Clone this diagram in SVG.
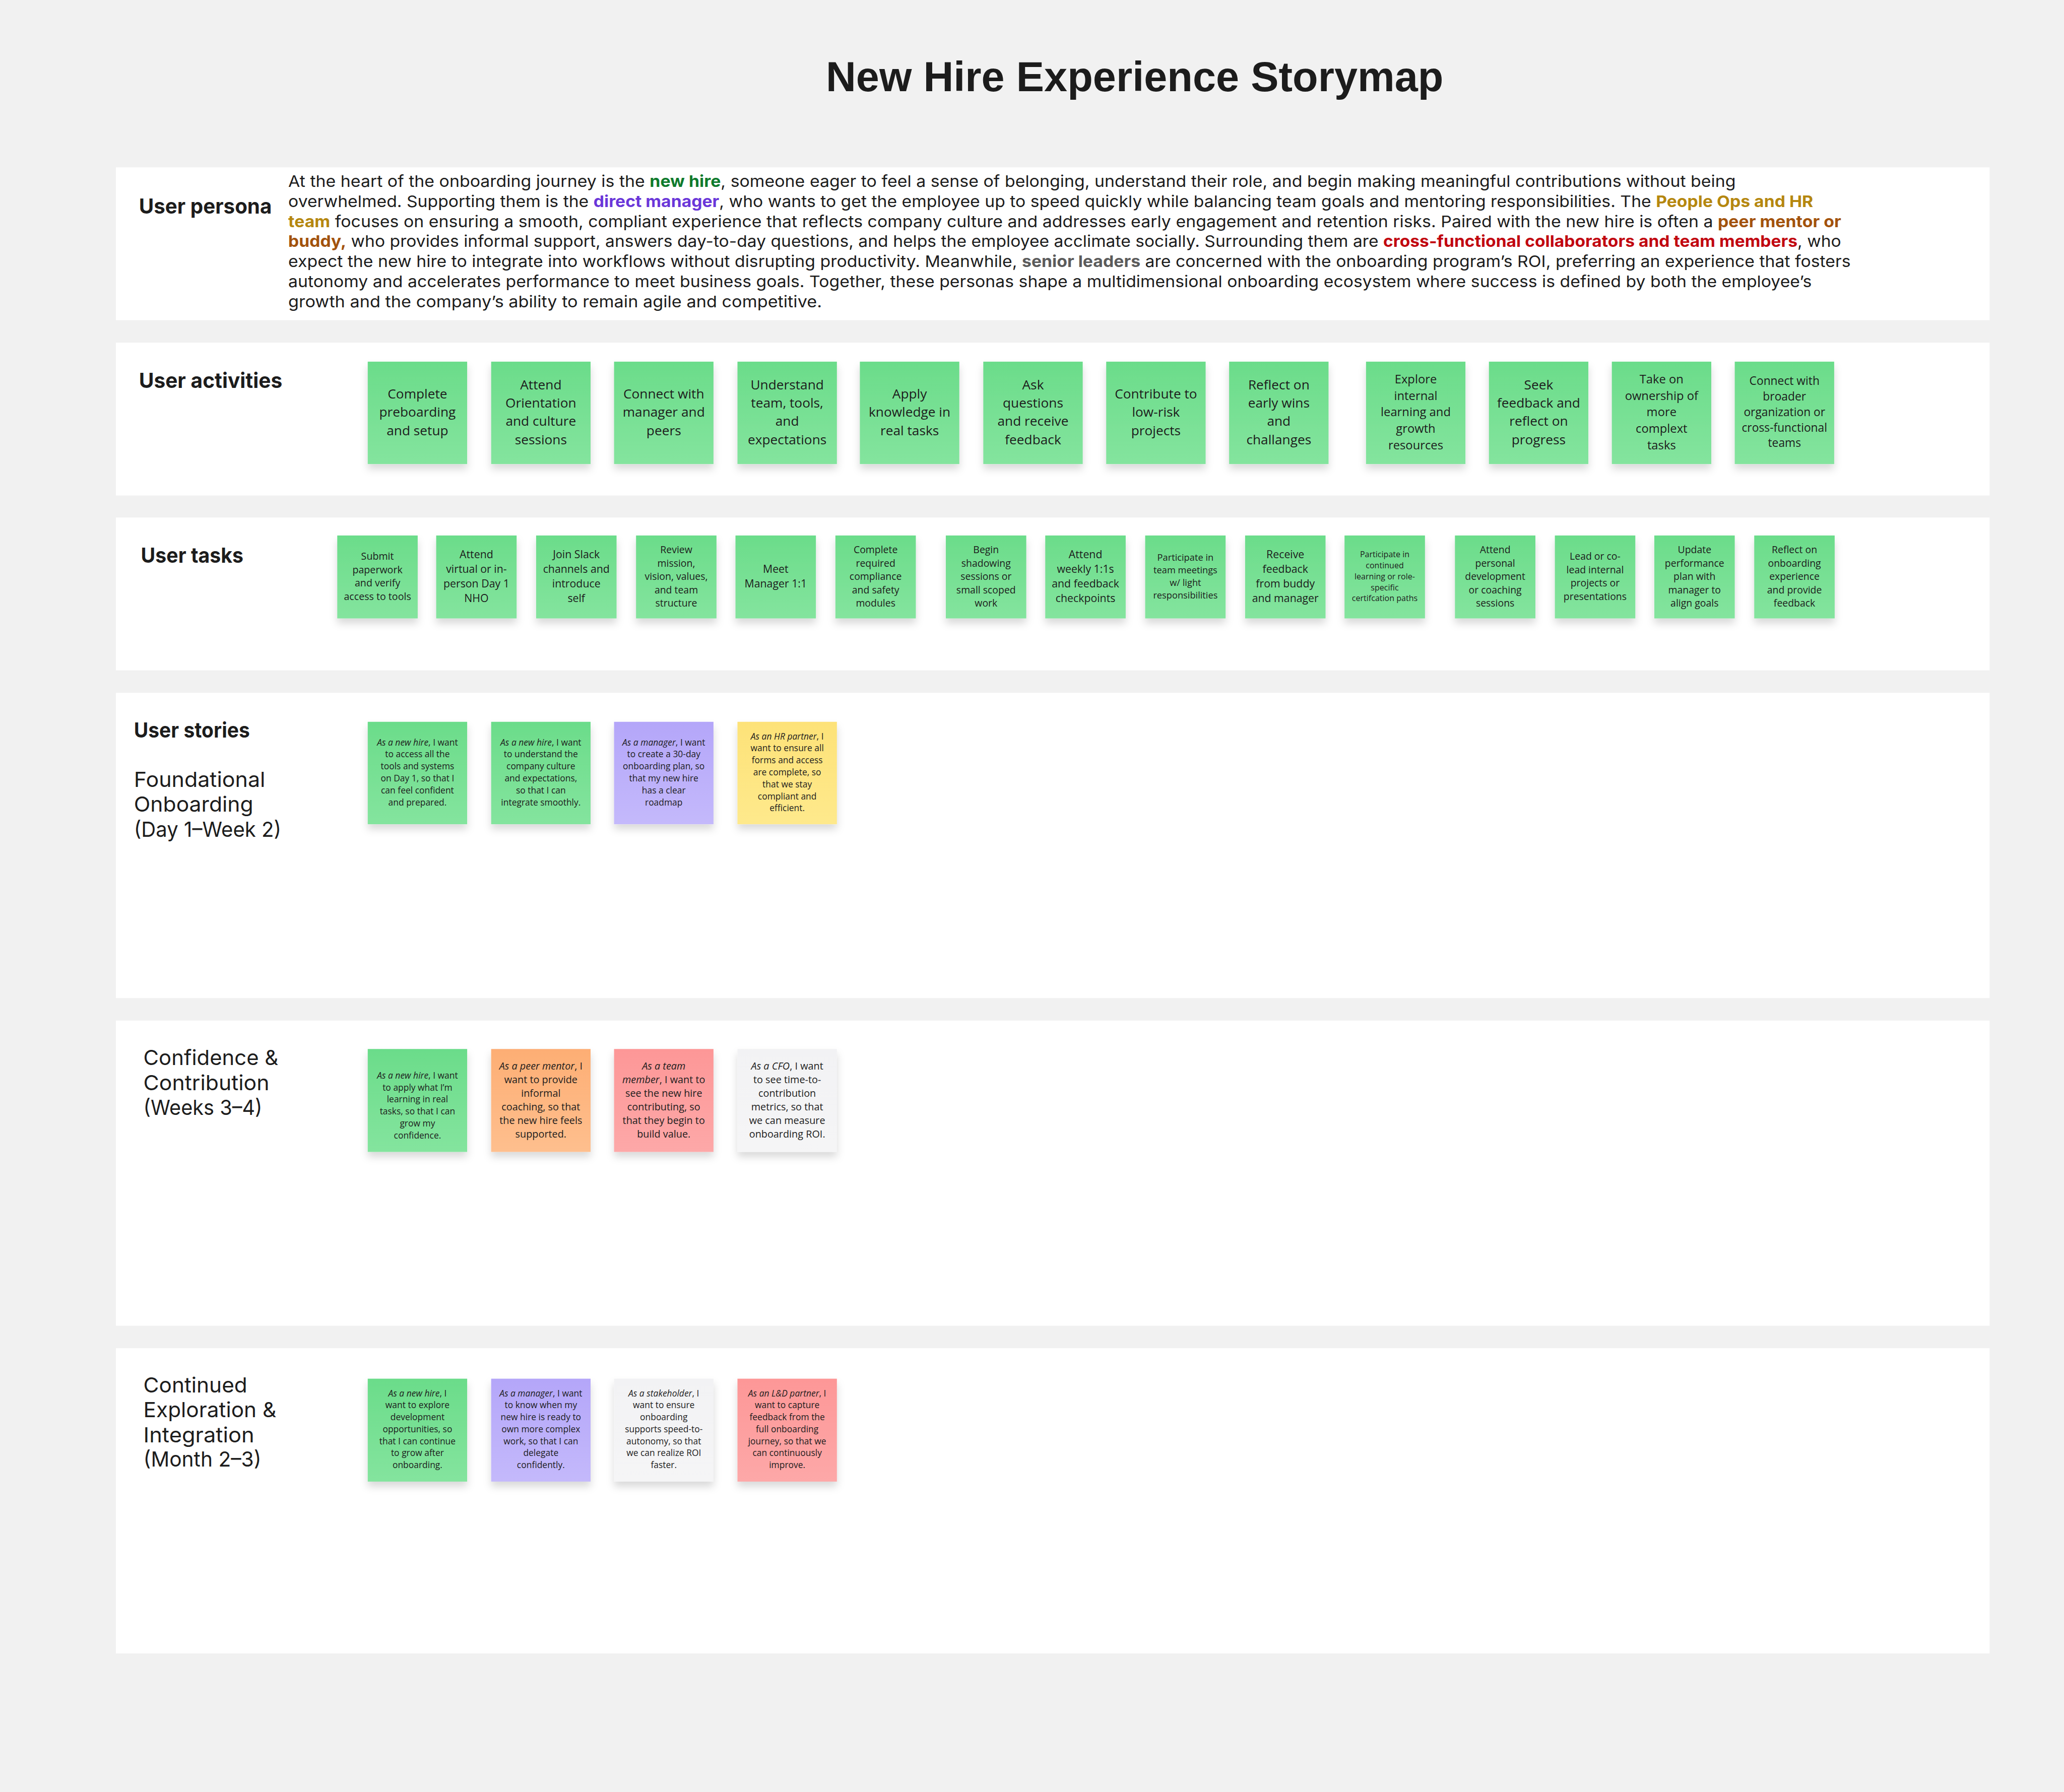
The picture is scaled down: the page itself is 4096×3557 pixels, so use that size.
<svg xmlns="http://www.w3.org/2000/svg" width="4096" height="3557" viewBox="0 0 4096 3557">
<style>
.panel{fill:#ffffff}
.lbl{font-family:Inter,"Liberation Sans",sans-serif;font-size:42px;font-weight:700;fill:#1c1c1c}
.lblr{font-family:Inter,"Liberation Sans",sans-serif;font-size:42px;font-weight:400;fill:#1c1c1c}
.ptxt{font-family:Inter,"Liberation Sans",sans-serif;font-size:32px;font-weight:400;fill:#1c1c1c}
.b{font-weight:700}
.st{font-family:"Open Sans","Liberation Sans",sans-serif;fill:#1c1c1c;text-anchor:middle}
.it{font-style:italic}
.a1{font-size:26.5px}.a2{font-size:24px}.a3{font-size:23px}
.t1{font-size:19.6px}.t2{font-size:21.5px}.t3{font-size:18.4px}.t4{font-size:16.2px}.t5{font-size:19.8px}
.s1{font-size:17.6px}.s2{font-size:20px}
.sk{filter:url(#sh)}
.green{fill:url(#gGreen)}.purple{fill:url(#gPurple)}.yellow{fill:url(#gYellow)}.orange{fill:url(#gOrange)}.red{fill:url(#gRed)}.white{fill:url(#gWhite)}
</style>
<defs>
<linearGradient id="gGreen" x1="0" y1="0" x2="0" y2="1"><stop offset="0" stop-color="#6bdc8a"/><stop offset="1" stop-color="#84e49e"/></linearGradient>
<linearGradient id="gPurple" x1="0" y1="0" x2="0" y2="1"><stop offset="0" stop-color="#b4a6f9"/><stop offset="1" stop-color="#c4b9fb"/></linearGradient>
<linearGradient id="gYellow" x1="0" y1="0" x2="0" y2="1"><stop offset="0" stop-color="#fde278"/><stop offset="1" stop-color="#fee98c"/></linearGradient>
<linearGradient id="gOrange" x1="0" y1="0" x2="0" y2="1"><stop offset="0" stop-color="#fdae74"/><stop offset="1" stop-color="#febf8e"/></linearGradient>
<linearGradient id="gRed" x1="0" y1="0" x2="0" y2="1"><stop offset="0" stop-color="#fd9797"/><stop offset="1" stop-color="#fda8a8"/></linearGradient>
<linearGradient id="gWhite" x1="0" y1="0" x2="0" y2="1"><stop offset="0" stop-color="#f2f2f4"/><stop offset="1" stop-color="#f5f5f6"/></linearGradient>
<filter id="sh" x="-20%" y="-20%" width="140%" height="160%"><feDropShadow dx="0" dy="10" stdDeviation="8" flood-color="#000000" flood-opacity="0.15"/></filter>
</defs>
<rect x="0" y="0" width="4096" height="3557" fill="#f1f1f1"/>
<g transform="scale(0.99153)">
<g id="title"><text x="1653" y="183" font-family="'Liberation Sans',Arial,sans-serif" font-weight="700" font-size="85" fill="#1c1c1c" textLength="1236" lengthAdjust="spacingAndGlyphs">New Hire Experience Storymap</text></g>

<g id="panels">
<rect class="panel" x="232" y="335" width="3750" height="306"/>
<rect class="panel" x="232" y="686" width="3750" height="306"/>
<rect class="panel" x="232" y="1036" width="3750" height="306"/>
<rect class="panel" x="232" y="1387" width="3750" height="611"/>
<rect class="panel" x="232" y="2043" width="3750" height="611"/>
<rect class="panel" x="232" y="2699" width="3750" height="611"/>
</g>

<g id="persona">
<text class="lbl" x="278" y="428" textLength="266" lengthAdjust="spacingAndGlyphs">User persona</text>
<text class="ptxt" x="577" y="374" textLength="2897" lengthAdjust="spacingAndGlyphs">At the heart of the onboarding journey is the <tspan class="b" fill="#0e7a2c">new hire</tspan>, someone eager to feel a sense of belonging, understand their role, and begin making meaningful contributions without being</text>
<text class="ptxt" x="577" y="414.2" textLength="3052" lengthAdjust="spacingAndGlyphs">overwhelmed. Supporting them is the <tspan class="b" fill="#6a36d9">direct manager</tspan>, who wants to get the employee up to speed quickly while balancing team goals and mentoring responsibilities. The <tspan class="b" fill="#b5870f">People Ops and HR</tspan></text>
<text class="ptxt" x="577" y="454.4" textLength="3108" lengthAdjust="spacingAndGlyphs"><tspan class="b" fill="#b5870f">team</tspan> focuses on ensuring a smooth, compliant experience that reflects company culture and addresses early engagement and retention risks. Paired with the new hire is often a <tspan class="b" fill="#a2520c">peer mentor or</tspan></text>
<text class="ptxt" x="577" y="494.6" textLength="3108" lengthAdjust="spacingAndGlyphs"><tspan class="b" fill="#a2520c">buddy,</tspan> who provides informal support, answers day-to-day questions, and helps the employee acclimate socially. Surrounding them are <tspan class="b" fill="#c1050f">cross-functional collaborators and team members</tspan>, who</text>
<text class="ptxt" x="577" y="534.8" textLength="3127" lengthAdjust="spacingAndGlyphs">expect the new hire to integrate into workflows without disrupting productivity. Meanwhile, <tspan class="b" fill="#5b5b5b">senior leaders</tspan> are concerned with the onboarding program’s ROI, preferring an experience that fosters</text>
<text class="ptxt" x="577" y="575" textLength="3049" lengthAdjust="spacingAndGlyphs">autonomy and accelerates performance to meet business goals. Together, these personas shape a multidimensional onboarding ecosystem where success is defined by both the employee’s</text>
<text class="ptxt" x="577" y="615.2" textLength="1068" lengthAdjust="spacingAndGlyphs">growth and the company’s ability to remain agile and competitive.</text>
</g>

<g id="activities">
<text class="lbl" x="278" y="777" textLength="287" lengthAdjust="spacingAndGlyphs">User activities</text>
<g id="act-1"><rect class="sk green" x="736" y="724" width="199" height="205"/><text class="st a1" x="835.5" y="797.6"><tspan x="835.5">Complete</tspan><tspan x="835.5" dy="36.7">preboarding</tspan><tspan x="835.5" dy="36.7">and setup</tspan></text></g>
<g id="act-2"><rect class="sk green" x="983" y="724" width="199" height="205"/><text class="st a1" x="1082.5" y="779.3"><tspan x="1082.5">Attend</tspan><tspan x="1082.5" dy="36.7">Orientation</tspan><tspan x="1082.5" dy="36.7">and culture</tspan><tspan x="1082.5" dy="36.7">sessions</tspan></text></g>
<g id="act-3"><rect class="sk green" x="1229" y="724" width="199" height="205"/><text class="st a1" x="1328.5" y="797.6"><tspan x="1328.5">Connect with</tspan><tspan x="1328.5" dy="36.7">manager and</tspan><tspan x="1328.5" dy="36.7">peers</tspan></text></g>
<g id="act-4"><rect class="sk green" x="1476" y="724" width="199" height="205"/><text class="st a1" x="1575.5" y="779.3"><tspan x="1575.5">Understand</tspan><tspan x="1575.5" dy="36.7">team, tools,</tspan><tspan x="1575.5" dy="36.7">and</tspan><tspan x="1575.5" dy="36.7">expectations</tspan></text></g>
<g id="act-5"><rect class="sk green" x="1721" y="724" width="199" height="205"/><text class="st a1" x="1820.5" y="797.6"><tspan x="1820.5">Apply</tspan><tspan x="1820.5" dy="36.7">knowledge in</tspan><tspan x="1820.5" dy="36.7">real tasks</tspan></text></g>
<g id="act-6"><rect class="sk green" x="1968" y="724" width="199" height="205"/><text class="st a1" x="2067.5" y="779.3"><tspan x="2067.5">Ask</tspan><tspan x="2067.5" dy="36.7">questions</tspan><tspan x="2067.5" dy="36.7">and receive</tspan><tspan x="2067.5" dy="36.7">feedback</tspan></text></g>
<g id="act-7"><rect class="sk green" x="2214" y="724" width="199" height="205"/><text class="st a1" x="2313.5" y="797.6"><tspan x="2313.5">Contribute to</tspan><tspan x="2313.5" dy="36.7">low-risk</tspan><tspan x="2313.5" dy="36.7">projects</tspan></text></g>
<g id="act-8"><rect class="sk green" x="2460" y="724" width="199" height="205"/><text class="st a1" x="2559.5" y="779.3"><tspan x="2559.5">Reflect on</tspan><tspan x="2559.5" dy="36.7">early wins</tspan><tspan x="2559.5" dy="36.7">and</tspan><tspan x="2559.5" dy="36.7">challanges</tspan></text></g>
<g id="act-9"><rect class="sk green" x="2734" y="724" width="199" height="205"/><text class="st a2" x="2833.5" y="767.4"><tspan x="2833.5">Explore</tspan><tspan x="2833.5" dy="33">internal</tspan><tspan x="2833.5" dy="33">learning and</tspan><tspan x="2833.5" dy="33">growth</tspan><tspan x="2833.5" dy="33">resources</tspan></text></g>
<g id="act-10"><rect class="sk green" x="2980" y="724" width="199" height="205"/><text class="st a1" x="3079.5" y="779.3"><tspan x="3079.5">Seek</tspan><tspan x="3079.5" dy="36.7">feedback and</tspan><tspan x="3079.5" dy="36.7">reflect on</tspan><tspan x="3079.5" dy="36.7">progress</tspan></text></g>
<g id="act-11"><rect class="sk green" x="3226" y="724" width="199" height="205"/><text class="st a2" x="3325.5" y="767.4"><tspan x="3325.5">Take on</tspan><tspan x="3325.5" dy="33">ownership of</tspan><tspan x="3325.5" dy="33">more</tspan><tspan x="3325.5" dy="33">complext</tspan><tspan x="3325.5" dy="33">tasks</tspan></text></g>
<g id="act-12"><rect class="sk green" x="3472" y="724" width="199" height="205"/><text class="st a3" x="3571.5" y="771"><tspan x="3571.5">Connect with</tspan><tspan x="3571.5" dy="31">broader</tspan><tspan x="3571.5" dy="31">organization or</tspan><tspan x="3571.5" dy="31">cross-functional</tspan><tspan x="3571.5" dy="31">teams</tspan></text></g>
</g>

<g id="tasks">
<text class="lbl" x="282" y="1127" textLength="205" lengthAdjust="spacingAndGlyphs">User tasks</text>
<g id="task-1"><rect class="sk green" x="675" y="1072" width="161" height="166"/><text class="st t5" x="755.5" y="1120.4"><tspan x="755.5">Submit</tspan><tspan x="755.5" dy="27">paperwork</tspan><tspan x="755.5" dy="27">and verify</tspan><tspan x="755.5" dy="27">access to tools</tspan></text></g>
<g id="task-2"><rect class="sk green" x="873" y="1072" width="161" height="166"/><text class="st t2" x="953.5" y="1117.5"><tspan x="953.5">Attend</tspan><tspan x="953.5" dy="29.3">virtual or in-</tspan><tspan x="953.5" dy="29.3">person Day 1</tspan><tspan x="953.5" dy="29.3">NHO</tspan></text></g>
<g id="task-3"><rect class="sk green" x="1073" y="1072" width="161" height="166"/><text class="st t2" x="1153.5" y="1117.5"><tspan x="1153.5">Join Slack</tspan><tspan x="1153.5" dy="29.3">channels and</tspan><tspan x="1153.5" dy="29.3">introduce</tspan><tspan x="1153.5" dy="29.3">self</tspan></text></g>
<g id="task-4"><rect class="sk green" x="1273" y="1072" width="161" height="166"/><text class="st t1" x="1353.5" y="1107.5"><tspan x="1353.5">Review</tspan><tspan x="1353.5" dy="26.7">mission,</tspan><tspan x="1353.5" dy="26.7">vision, values,</tspan><tspan x="1353.5" dy="26.7">and team</tspan><tspan x="1353.5" dy="26.7">structure</tspan></text></g>
<g id="task-5"><rect class="sk green" x="1472" y="1072" width="161" height="166"/><text class="st t2" x="1552.5" y="1146.9"><tspan x="1552.5">Meet</tspan><tspan x="1552.5" dy="29.3">Manager 1:1</tspan></text></g>
<g id="task-6"><rect class="sk green" x="1672" y="1072" width="161" height="166"/><text class="st t1" x="1752.5" y="1107.5"><tspan x="1752.5">Complete</tspan><tspan x="1752.5" dy="26.7">required</tspan><tspan x="1752.5" dy="26.7">compliance</tspan><tspan x="1752.5" dy="26.7">and safety</tspan><tspan x="1752.5" dy="26.7">modules</tspan></text></g>
<g id="task-7"><rect class="sk green" x="1893" y="1072" width="161" height="166"/><text class="st t1" x="1973.5" y="1107.5"><tspan x="1973.5">Begin</tspan><tspan x="1973.5" dy="26.7">shadowing</tspan><tspan x="1973.5" dy="26.7">sessions or</tspan><tspan x="1973.5" dy="26.7">small scoped</tspan><tspan x="1973.5" dy="26.7">work</tspan></text></g>
<g id="task-8"><rect class="sk green" x="2092" y="1072" width="161" height="166"/><text class="st t2" x="2172.5" y="1117.5"><tspan x="2172.5">Attend</tspan><tspan x="2172.5" dy="29.3">weekly 1:1s</tspan><tspan x="2172.5" dy="29.3">and feedback</tspan><tspan x="2172.5" dy="29.3">checkpoints</tspan></text></g>
<g id="task-9"><rect class="sk green" x="2292" y="1072" width="161" height="166"/><text class="st t3" x="2372.5" y="1122.9"><tspan x="2372.5">Participate in</tspan><tspan x="2372.5" dy="25">team meetings</tspan><tspan x="2372.5" dy="25">w/ light</tspan><tspan x="2372.5" dy="25">responsibilities</tspan></text></g>
<g id="task-10"><rect class="sk green" x="2492" y="1072" width="161" height="166"/><text class="st t2" x="2572.5" y="1117.5"><tspan x="2572.5">Receive</tspan><tspan x="2572.5" dy="29.3">feedback</tspan><tspan x="2572.5" dy="29.3">from buddy</tspan><tspan x="2572.5" dy="29.3">and manager</tspan></text></g>
<g id="task-11"><rect class="sk green" x="2691" y="1072" width="161" height="166"/><text class="st t4" x="2771.5" y="1115.7"><tspan x="2771.5">Participate in</tspan><tspan x="2771.5" dy="22">continued</tspan><tspan x="2771.5" dy="22">learning or role-</tspan><tspan x="2771.5" dy="22">specific</tspan><tspan x="2771.5" dy="22">certifcation paths</tspan></text></g>
<g id="task-12"><rect class="sk green" x="2912" y="1072" width="161" height="166"/><text class="st t1" x="2992.5" y="1107.5"><tspan x="2992.5">Attend</tspan><tspan x="2992.5" dy="26.7">personal</tspan><tspan x="2992.5" dy="26.7">development</tspan><tspan x="2992.5" dy="26.7">or coaching</tspan><tspan x="2992.5" dy="26.7">sessions</tspan></text></g>
<g id="task-13"><rect class="sk green" x="3112" y="1072" width="161" height="166"/><text class="st t1" x="3192.5" y="1121"><tspan x="3192.5">Lead or co-</tspan><tspan x="3192.5" dy="26.6">lead internal</tspan><tspan x="3192.5" dy="26.6">projects or</tspan><tspan x="3192.5" dy="26.6">presentations</tspan></text></g>
<g id="task-14"><rect class="sk green" x="3311" y="1072" width="161" height="166"/><text class="st t1" x="3391.5" y="1107.5"><tspan x="3391.5">Update</tspan><tspan x="3391.5" dy="26.7">performance</tspan><tspan x="3391.5" dy="26.7">plan with</tspan><tspan x="3391.5" dy="26.7">manager to</tspan><tspan x="3391.5" dy="26.7">align goals</tspan></text></g>
<g id="task-15"><rect class="sk green" x="3511" y="1072" width="161" height="166"/><text class="st t1" x="3591.5" y="1107.5"><tspan x="3591.5">Reflect on</tspan><tspan x="3591.5" dy="26.7">onboarding</tspan><tspan x="3591.5" dy="26.7">experience</tspan><tspan x="3591.5" dy="26.7">and provide</tspan><tspan x="3591.5" dy="26.7">feedback</tspan></text></g>
</g>

<g id="stories-foundational">
<text class="lbl" x="268" y="1477" textLength="232" lengthAdjust="spacingAndGlyphs">User stories</text>
<text class="lblr" x="268" y="1575" textLength="263" lengthAdjust="spacingAndGlyphs">Foundational</text>
<text class="lblr" x="268" y="1625" textLength="239" lengthAdjust="spacingAndGlyphs">Onboarding</text>
<text class="lblr" x="268" y="1675" textLength="295" lengthAdjust="spacingAndGlyphs">(Day 1–Week 2)</text>
<g id="story-1-1"><rect class="sk green" x="736" y="1445" width="199" height="205"/><text class="st s1" x="835.5" y="1492.2"><tspan x="835.5"><tspan class="it">As a new hire</tspan>, I want</tspan><tspan x="835.5" dy="24">to access all the</tspan><tspan x="835.5" dy="24">tools and systems</tspan><tspan x="835.5" dy="24">on Day 1, so that I</tspan><tspan x="835.5" dy="24">can feel confident</tspan><tspan x="835.5" dy="24">and prepared.</tspan></text></g>
<g id="story-1-2"><rect class="sk green" x="983" y="1445" width="199" height="205"/><text class="st s1" x="1082.5" y="1492.2"><tspan x="1082.5"><tspan class="it">As a new hire</tspan>, I want</tspan><tspan x="1082.5" dy="24">to understand the</tspan><tspan x="1082.5" dy="24">company culture</tspan><tspan x="1082.5" dy="24">and expectations,</tspan><tspan x="1082.5" dy="24">so that I can</tspan><tspan x="1082.5" dy="24">integrate smoothly.</tspan></text></g>
<g id="story-1-3"><rect class="sk purple" x="1229" y="1445" width="199" height="205"/><text class="st s1" x="1328.5" y="1492.2"><tspan x="1328.5"><tspan class="it">As a manager</tspan>, I want</tspan><tspan x="1328.5" dy="24">to create a 30-day</tspan><tspan x="1328.5" dy="24">onboarding plan, so</tspan><tspan x="1328.5" dy="24">that my new hire</tspan><tspan x="1328.5" dy="24">has a clear</tspan><tspan x="1328.5" dy="24">roadmap</tspan></text></g>
<g id="story-1-4"><rect class="sk yellow" x="1476" y="1445" width="199" height="205"/><text class="st s1" x="1575.5" y="1480.2"><tspan x="1575.5"><tspan class="it">As an HR partner</tspan>, I</tspan><tspan x="1575.5" dy="24">want to ensure all</tspan><tspan x="1575.5" dy="24">forms and access</tspan><tspan x="1575.5" dy="24">are complete, so</tspan><tspan x="1575.5" dy="24">that we stay</tspan><tspan x="1575.5" dy="24">compliant and</tspan><tspan x="1575.5" dy="24">efficient.</tspan></text></g>
</g>

<g id="stories-confidence">
<text class="lblr" x="287" y="2132" textLength="270" lengthAdjust="spacingAndGlyphs">Confidence &amp;</text>
<text class="lblr" x="287" y="2182" textLength="252" lengthAdjust="spacingAndGlyphs">Contribution</text>
<text class="lblr" x="287" y="2232" textLength="238" lengthAdjust="spacingAndGlyphs">(Weeks 3–4)</text>
<g id="story-2-1"><rect class="sk green" x="736" y="2100" width="199" height="206"/><text class="st s1" x="835.5" y="2159.2"><tspan x="835.5"><tspan class="it">As a new hire</tspan>, I want</tspan><tspan x="835.5" dy="24">to apply what I’m</tspan><tspan x="835.5" dy="24">learning in real</tspan><tspan x="835.5" dy="24">tasks, so that I can</tspan><tspan x="835.5" dy="24">grow my</tspan><tspan x="835.5" dy="24">confidence.</tspan></text></g>
<g id="story-2-2"><rect class="sk orange" x="983" y="2100" width="199" height="206"/><text class="st s2" x="1082.5" y="2141"><tspan x="1082.5"><tspan class="it">As a peer mentor</tspan>, I</tspan><tspan x="1082.5" dy="27.2">want to provide</tspan><tspan x="1082.5" dy="27.2">informal</tspan><tspan x="1082.5" dy="27.2">coaching, so that</tspan><tspan x="1082.5" dy="27.2">the new hire feels</tspan><tspan x="1082.5" dy="27.2">supported.</tspan></text></g>
<g id="story-2-3"><rect class="sk red" x="1229" y="2100" width="199" height="206"/><text class="st s2" x="1328.5" y="2141"><tspan x="1328.5" class="it">As a team</tspan><tspan x="1328.5" dy="27.2"><tspan class="it">member</tspan>, I want to</tspan><tspan x="1328.5" dy="27.2">see the new hire</tspan><tspan x="1328.5" dy="27.2">contributing, so</tspan><tspan x="1328.5" dy="27.2">that they begin to</tspan><tspan x="1328.5" dy="27.2">build value.</tspan></text></g>
<g id="story-2-4"><rect class="sk white" x="1476" y="2100" width="199" height="206"/><text class="st s2" x="1575.5" y="2141"><tspan x="1575.5"><tspan class="it">As a CFO</tspan>, I want</tspan><tspan x="1575.5" dy="27.2">to see time-to-</tspan><tspan x="1575.5" dy="27.2">contribution</tspan><tspan x="1575.5" dy="27.2">metrics, so that</tspan><tspan x="1575.5" dy="27.2">we can measure</tspan><tspan x="1575.5" dy="27.2">onboarding ROI.</tspan></text></g>
</g>

<g id="stories-continued">
<text class="lblr" x="287" y="2788" textLength="208" lengthAdjust="spacingAndGlyphs">Continued</text>
<text class="lblr" x="287" y="2837" textLength="266" lengthAdjust="spacingAndGlyphs">Exploration &amp;</text>
<text class="lblr" x="287" y="2887" textLength="222" lengthAdjust="spacingAndGlyphs">Integration</text>
<text class="lblr" x="287" y="2936" textLength="236" lengthAdjust="spacingAndGlyphs">(Month 2–3)</text>
<g id="story-3-1"><rect class="sk green" x="736" y="2760" width="199" height="206"/><text class="st s1" x="835.5" y="2795.2"><tspan x="835.5"><tspan class="it">As a new hire</tspan>, I</tspan><tspan x="835.5" dy="24">want to explore</tspan><tspan x="835.5" dy="24">development</tspan><tspan x="835.5" dy="24">opportunities, so</tspan><tspan x="835.5" dy="24">that I can continue</tspan><tspan x="835.5" dy="24">to grow after</tspan><tspan x="835.5" dy="24">onboarding.</tspan></text></g>
<g id="story-3-2"><rect class="sk purple" x="983" y="2760" width="199" height="206"/><text class="st s1" x="1082.5" y="2795.2"><tspan x="1082.5"><tspan class="it">As a manager</tspan>, I want</tspan><tspan x="1082.5" dy="24">to know when my</tspan><tspan x="1082.5" dy="24">new hire is ready to</tspan><tspan x="1082.5" dy="24">own more complex</tspan><tspan x="1082.5" dy="24">work, so that I can</tspan><tspan x="1082.5" dy="24">delegate</tspan><tspan x="1082.5" dy="24">confidently.</tspan></text></g>
<g id="story-3-3"><rect class="sk white" x="1229" y="2760" width="199" height="206"/><text class="st s1" x="1328.5" y="2795.2"><tspan x="1328.5"><tspan class="it">As a stakeholder</tspan>, I</tspan><tspan x="1328.5" dy="24">want to ensure</tspan><tspan x="1328.5" dy="24">onboarding</tspan><tspan x="1328.5" dy="24">supports speed-to-</tspan><tspan x="1328.5" dy="24">autonomy, so that</tspan><tspan x="1328.5" dy="24">we can realize ROI</tspan><tspan x="1328.5" dy="24">faster.</tspan></text></g>
<g id="story-3-4"><rect class="sk red" x="1476" y="2760" width="199" height="206"/><text class="st s1" x="1575.5" y="2795.2"><tspan x="1575.5"><tspan class="it">As an L&amp;D partner</tspan>, I</tspan><tspan x="1575.5" dy="24">want to capture</tspan><tspan x="1575.5" dy="24">feedback from the</tspan><tspan x="1575.5" dy="24">full onboarding</tspan><tspan x="1575.5" dy="24">journey, so that we</tspan><tspan x="1575.5" dy="24">can continuously</tspan><tspan x="1575.5" dy="24">improve.</tspan></text></g>
</g>
<g id="connectors"/>
</g>
</svg>
